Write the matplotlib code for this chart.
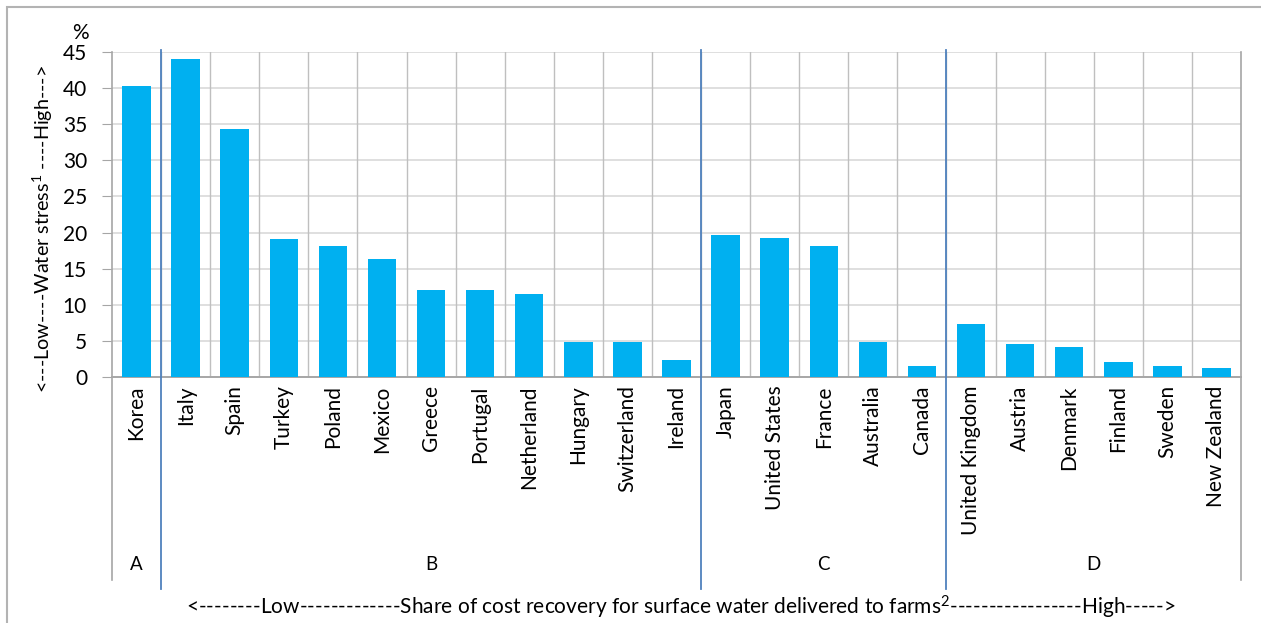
import matplotlib
matplotlib.use("Agg")
import matplotlib.pyplot as plt
from matplotlib.patches import Rectangle
from matplotlib.transforms import blended_transform_factory

plt.rcParams['font.family'] = ['Lato', 'DejaVu Sans']
plt.rcParams['mathtext.fontset'] = 'custom'
plt.rcParams['mathtext.rm'] = 'Lato'
plt.rcParams['mathtext.default'] = 'regular'

countries = ["Korea", "Italy", "Spain", "Turkey", "Poland", "Mexico", "Greece",
             "Portugal", "Netherland", "Hungary", "Switzerland", "Ireland",
             "Japan", "United States", "France", "Australia", "Canada",
             "United Kingdom", "Austria", "Denmark", "Finland", "Sweden", "New Zealand"]
water_stress = [40.3, 44.0, 34.3, 19.1, 18.2, 16.3, 12.1,
                12.0, 11.5, 4.9, 4.8, 2.3,
                19.7, 19.2, 18.1, 4.8, 1.5,
                7.4, 4.6, 4.2, 2.1, 1.5, 1.2]
groups = ["A", "B", "C", "D"]
group_sizes = [1, 11, 5, 6]
yticks = [0, 5, 10, 15, 20, 25, 30, 35, 40, 45]

W, H = 1261, 623
fig = plt.figure(figsize=(W / 100, H / 100), dpi=100)

# outer frame of the chart area
fig.patches.append(Rectangle((7 / W, -0.1), 1.1, 1 - 7 / H + 0.1, transform=fig.transFigure,
                             fill=False, edgecolor="#b3b3b3", linewidth=1.5))

left, right, top, bottom = 112, 1241, 52, 377
ax = fig.add_axes([left / W, 1 - bottom / H, (right - left) / W, (bottom - top) / H])

n = len(countries)
x = list(range(n))
ax.bar(x, water_stress, width=0.58, color="#00B0F0", zorder=3)

ax.set_xlim(-0.5, n - 0.5)
ax.set_ylim(0, 45)
ax.set_yticks(yticks)
ax.set_yticklabels([str(t) for t in yticks], fontsize=15)
ax.set_xticks(x)
ax.set_xticklabels(countries, rotation=90, fontsize=15, va="top")
ax.tick_params(axis="x", length=0, pad=6)
ax.tick_params(axis="y", length=7, color="#a6a6a6", pad=11)

# grid: horizontal at each y tick, vertical at category boundaries
for t in yticks[1:]:
    ax.axhline(t, color="#d9d9d9", linewidth=1.2, zorder=1)
for b in range(1, n):
    ax.axvline(b - 0.5, color="#bfbfbf", linewidth=1.0, zorder=1)

for s in ["top", "right"]:
    ax.spines[s].set_visible(False)
ax.spines["left"].set_color("#a6a6a6")
ax.spines["bottom"].set_color("#a6a6a6")
ax.spines["left"].set_linewidth(1.2)
ax.spines["bottom"].set_linewidth(1.4)

trans = blended_transform_factory(ax.transData, ax.transAxes)
lower = (bottom - 580) / (bottom - top)
lower_blue = (bottom - 589) / (bottom - top)
# outer left and right edges of the category table
ax.plot([-0.5, -0.5], [0, lower], transform=trans, color="#a6a6a6", lw=1.2, clip_on=False)
ax.plot([n - 0.5, n - 0.5], [1, lower], transform=trans, color="#a6a6a6", lw=1.2, clip_on=False)

# group separators and group letters
start = 0
letter_y = (bottom - 564) / (bottom - top)
for g, size in zip(groups, group_sizes):
    center = start + (size - 1) / 2
    ax.text(center, letter_y, g, transform=trans, ha="center", va="center", fontsize=13.5)
    end = start + size
    if end < n:
        ax.plot([end - 0.5, end - 0.5], [1.005, lower_blue], transform=trans,
                color="#4f81bd", lw=1.3, clip_on=False, zorder=4)
    start = end

fig.text(681 / W, 1 - 607 / H,
         "<--------Low-------------Share of cost recovery for surface water delivered to farms$^{2}$-----------------High----->",
         ha="center", va="center", fontsize=15)
fig.text(43 / W, 1 - 229 / H, "<---Low----Water stress$^{1}$ ----High--->",
         rotation=90, ha="center", va="center", fontsize=14.2)
fig.text(80 / W, 1 - 33 / H, "%", ha="center", va="center", fontsize=15)

fig.savefig("out.png", dpi=100)
